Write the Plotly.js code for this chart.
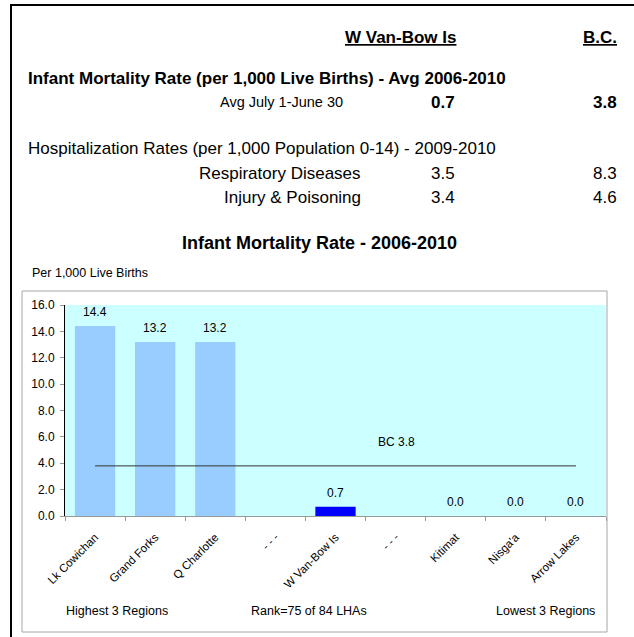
<!DOCTYPE html>
<html>
<head>
<meta charset="utf-8">
<script src="https://cdn.plot.ly/plotly-3.0.1.min.js"></script>
<style>
  body { margin: 0; background: #fff; }
  #plot { width: 634px; height: 637px; }
</style>
</head>
<body>
<div id="plot"></div>
<script>
  // chart data
  const categories = ['Lk Cowichan', 'Grand Forks', 'Q Charlotte', '- - -', 'W Van-Bow Is', '- - -', 'Kitimat', "Nisga'a", 'Arrow Lakes'];
  const rates = [14.4, 13.2, 13.2, null, 0.7, null, 0.0, 0.0, 0.0];
  const localArea = 'W Van-Bow Is';
  const bcRate = 3.8;
  const yTicks = [0, 2, 4, 6, 8, 10, 12, 14, 16];

  // summary table above the chart
  const rowLabels = ['Avg July 1-June 30', 'Respiratory Diseases', 'Injury & Poisoning'];
  const localValues = [0.7, 3.5, 3.4];
  const bcValues = [3.8, 8.3, 4.6];
  const footLabels = ['Highest 3 Regions', 'Rank=75 of 84 LHAs', 'Lowest 3 Regions'];

  const FONT = 'Arial, "Liberation Sans", sans-serif';

  // plot area in pixels, used to place the page text around it
  const PL = 65, PR = 606, PT = 305, PB = 516;
  function px(x) { return (x - PL) / (PR - PL); }
  function py(y) { return (PB - y) / (PB - PT); }

  function label(text, x, y, size, anchor) {
    return {
      text: text, xref: 'paper', yref: 'paper', x: px(x), y: py(y),
      xanchor: anchor || 'center', yanchor: 'middle', showarrow: false,
      font: { family: FONT, size: size, color: '#000' }
    };
  }

  const keys = categories.map(function (c, i) { return 'c' + i; });

  const bars = {
    type: 'bar', x: keys, y: rates,
    marker: { color: categories.map(function (c) { return c === localArea ? '#0000ff' : '#99ccff'; }) },
    hoverinfo: 'skip'
  };

  const bcLine = {
    type: 'scatter', mode: 'lines',
    x: [keys[0], keys[keys.length - 1]], y: [bcRate, bcRate],
    line: { color: '#333', width: 1 }, hoverinfo: 'skip'
  };

  const annotations = [
    label('<b><u>' + localArea + '</u></b>', 458, 37, 17, 'right'),
    label('<b><u>B.C.</u></b>', 619, 37, 17, 'right'),
    label('<b>Infant Mortality Rate (per 1,000 Live Births) - Avg 2006-2010</b>', 26, 78, 17, 'left'),
    label('Hospitalization Rates (per 1,000 Population 0-14) - 2009-2010', 26, 149, 17, 'left'),
    label('<b>Infant Mortality Rate - 2006-2010</b>', 319, 243, 18),
    label('Per 1,000 Live Births', 30, 273, 12.5, 'left'),
    label('BC ' + bcRate.toFixed(1), 396, 442, 12)
  ];

  // value labels above each bar
  rates.forEach(function (v, i) {
    if (v === null) return;
    annotations.push({
      text: v.toFixed(1), xref: 'x', yref: 'y', x: keys[i], y: v,
      xanchor: 'center', yanchor: 'bottom', yshift: 5, showarrow: false,
      font: { family: FONT, size: 12, color: '#000' }
    });
  });

  const rowY = [102, 173, 197];
  rowLabels.forEach(function (r, i) {
    const first = i === 0;
    annotations.push(label(r, first ? 345 : 363, rowY[i], first ? 14.5 : 17, 'right'));
    const l = localValues[i].toFixed(1), b = bcValues[i].toFixed(1);
    annotations.push(label(first ? '<b>' + l + '</b>' : l, 457, rowY[i], 17, 'right'));
    annotations.push(label(first ? '<b>' + b + '</b>' : b, 619, rowY[i], 17, 'right'));
  });

  const footX = [117, 309, 545];
  footLabels.forEach(function (f, i) {
    annotations.push(label(f, footX[i], 611, 12.5));
  });

  const shapes = [
    // outer frame (top and left edges)
    { type: 'line', xref: 'paper', yref: 'paper', x0: px(10), x1: px(640), y0: py(5), y1: py(5), line: { color: '#000', width: 2 } },
    { type: 'line', xref: 'paper', yref: 'paper', x0: px(11), x1: px(11), y0: py(4), y1: py(640), line: { color: '#000', width: 2 } },
    // chart box
    { type: 'rect', xref: 'paper', yref: 'paper', x0: px(22), x1: px(607), y0: py(291), y1: py(632), line: { color: '#a6a6a6', width: 1 } }
  ];

  const layout = {
    width: 634, height: 637,
    margin: { l: PL, r: 634 - PR, t: PT, b: 637 - PB },
    paper_bgcolor: '#fff', plot_bgcolor: '#ccffff',
    showlegend: false, bargap: 0.33,
    font: { family: FONT, color: '#000' },
    xaxis: {
      type: 'category', range: [-0.5, keys.length - 0.5],
      tickmode: 'array', tickvals: keys, ticktext: categories,
      tickson: 'boundaries', ticks: 'outside', ticklen: 4, tickcolor: '#999',
      ticklabelstandoff: 9,
      tickangle: -45, tickfont: { family: FONT, size: 11.5, color: '#000' },
      showline: true, linecolor: '#999', linewidth: 1,
      showgrid: false, zeroline: false, fixedrange: true
    },
    yaxis: {
      range: [0, 16], tickmode: 'array', tickvals: yTicks,
      ticktext: yTicks.map(function (t) { return t.toFixed(1); }),
      ticks: 'outside', ticklen: 4, tickcolor: '#999', ticklabelstandoff: 3,
      tickfont: { family: FONT, size: 12, color: '#000' },
      showline: true, linecolor: '#000', linewidth: 1,
      showgrid: false, zeroline: false, fixedrange: true
    },
    annotations: annotations,
    shapes: shapes
  };

  Plotly.newPlot('plot', [bars, bcLine], layout, { displayModeBar: false, staticPlot: true });
</script>
</body>
</html>
